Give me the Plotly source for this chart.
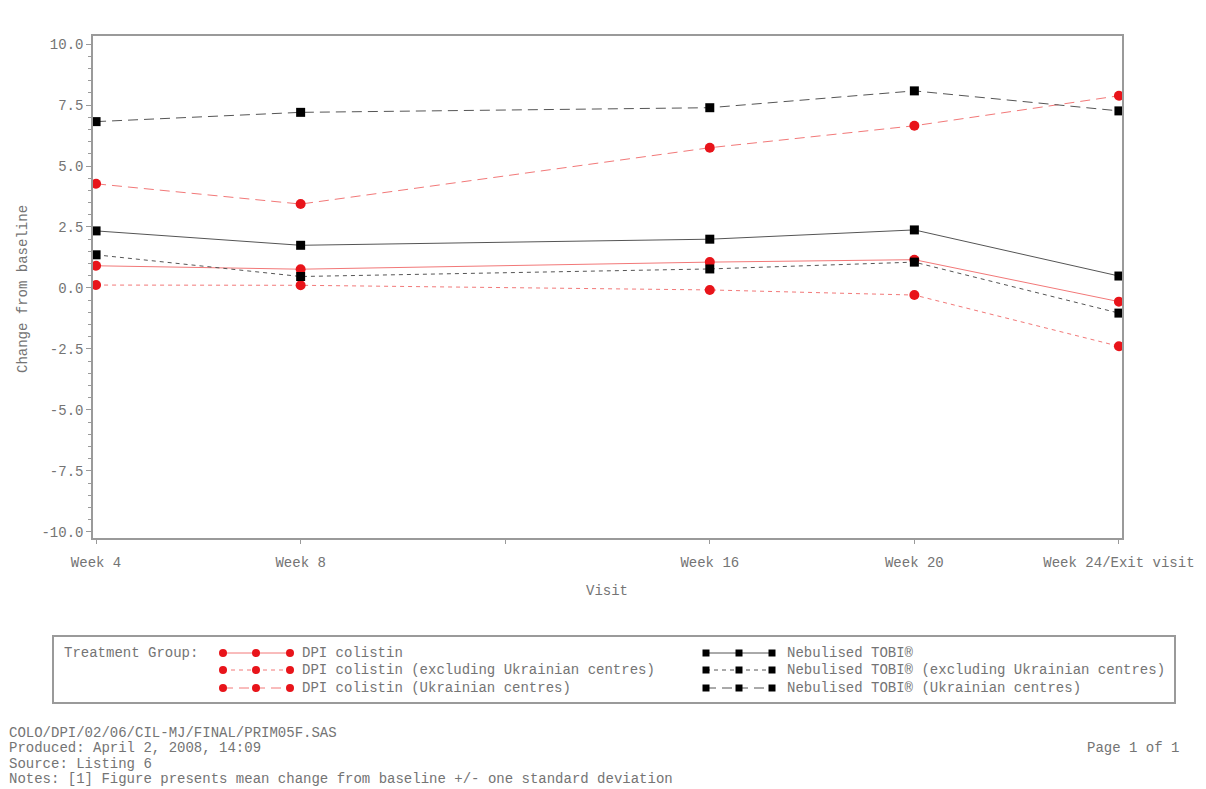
import plotly.graph_objects as go

# ---- data -------------------------------------------------------------
weeks = [4, 8, 16, 20, 24]
visit_tickvals = [4, 8, 12, 16, 20, 24]
visit_ticktext = ["Week 4", "Week 8", "", "Week 16", "Week 20", "Week 24/Exit visit"]

dpi_all = [0.91, 0.77, 1.06, 1.16, -0.56]
dpi_excl = [0.12, 0.11, -0.08, -0.29, -2.39]
dpi_ukr = [4.27, 3.44, 5.75, 6.65, 7.88]
tobi_all = [2.34, 1.75, 2.00, 2.38, 0.49]
tobi_excl = [1.36, 0.47, 0.78, 1.06, -1.03]
tobi_ukr = [6.82, 7.20, 7.39, 8.08, 7.26]

y_tickvals = [10.0, 7.5, 5.0, 2.5, 0.0, -2.5, -5.0, -7.5, -10.0]

series_names = [
    "DPI colistin",
    "DPI colistin (excluding Ukrainian centres)",
    "DPI colistin (Ukrainian centres)",
    "Nebulised TOBI\u00ae",
    "Nebulised TOBI\u00ae (excluding Ukrainian centres)",
    "Nebulised TOBI\u00ae (Ukrainian centres)",
]

footer_lines = [
    "COLO/DPI/02/06/CIL-MJ/FINAL/PRIM05F.SAS",
    "Produced: April 2, 2008, 14:09",
    "Source: Listing 6",
    "Notes: [1] Figure presents mean change from baseline +/- one standard deviation",
]

# ---- styling ------------------------------------------------------------
W, H = 1206, 789
FONT = "Liberation Mono"
FS = 14
TXT = "#747474"
AX = "#9a9a9a"
RED_M, RED_L = "#e8141a", "#f27878"
BLK_M, BLK_L = "#000000", "#555555"
DASH = {"all": "solid", "excl": "4px,4px", "ukr": "10px,6px"}


def px_x(p):
    return p / W


def px_y(p):
    return 1 - p / H


fig = go.Figure()

groups = [
    (dpi_all, series_names[0], "all", "red"),
    (dpi_excl, series_names[1], "excl", "red"),
    (dpi_ukr, series_names[2], "ukr", "red"),
    (tobi_all, series_names[3], "all", "blk"),
    (tobi_excl, series_names[4], "excl", "blk"),
    (tobi_ukr, series_names[5], "ukr", "blk"),
]

for vals, name, kind, col in groups:
    red = col == "red"
    fig.add_trace(go.Scatter(
        x=weeks, y=vals, name=name, mode="lines+markers",
        line=dict(color=RED_L if red else BLK_L, width=1, dash=DASH[kind]),
        marker=dict(symbol="circle" if red else "square",
                    size=10 if red else 9,
                    color=RED_M if red else BLK_M, line=dict(width=0)),
        showlegend=False, xaxis="x", yaxis="y",
    ))

# ---- hand-built legend panel (own axes, pixel units) ------------------
LEG_X0, LEG_X1, LEG_Y0, LEG_Y1 = 54, 1174, 637, 702
row_y = [653, 670, 688]
key_cols = [[223, 256, 290], [706, 739, 772]]
text_x = [300, 785]

for i, (vals, name, kind, col) in enumerate(groups):
    red = col == "red"
    c = 0 if red else 1
    r = i % 3
    fig.add_trace(go.Scatter(
        x=key_cols[c], y=[row_y[r]] * 3, mode="lines+markers",
        line=dict(color=RED_L if red else BLK_L, width=1, dash=DASH[kind]),
        marker=dict(symbol="circle" if red else "square",
                    size=8 if red else 7,
                    color=RED_M if red else BLK_M, line=dict(width=0)),
        showlegend=False, hoverinfo="skip", xaxis="x2", yaxis="y2",
    ))
    fig.add_annotation(x=text_x[c], y=row_y[r], xref="x2", yref="y2",
                       text=name, showarrow=False, xanchor="left", yanchor="middle",
                       font=dict(family=FONT, size=FS, color=TXT))

fig.add_annotation(x=62, y=row_y[0], xref="x2", yref="y2", text="Treatment Group:",
                   showarrow=False, xanchor="left", yanchor="middle",
                   font=dict(family=FONT, size=FS, color=TXT))

# ---- titles and footer ----------------------------------------------------
fig.add_annotation(x=px_x(607), y=px_y(591), xref="paper", yref="paper", text="Visit",
                   showarrow=False, xanchor="center", yanchor="middle",
                   font=dict(family=FONT, size=FS, color=TXT))
fig.add_annotation(x=px_x(23), y=px_y(289), xref="paper", yref="paper",
                   text="Change from baseline", textangle=-90,
                   showarrow=False, xanchor="center", yanchor="middle",
                   font=dict(family=FONT, size=FS, color=TXT))

for k, line in enumerate(footer_lines):
    fig.add_annotation(x=px_x(7), y=px_y(733 + 15.3 * k), xref="paper", yref="paper",
                       text=line, showarrow=False, xanchor="left", yanchor="middle",
                       font=dict(family=FONT, size=FS, color=TXT))
fig.add_annotation(x=px_x(1181), y=px_y(748), xref="paper", yref="paper",
                   text="Page 1 of 1", showarrow=False, xanchor="right", yanchor="middle",
                   font=dict(family=FONT, size=FS, color=TXT))

# ---- axes -----------------------------------------------------------------
fig.update_layout(
    width=W, height=H,
    margin=dict(l=0, r=0, t=0, b=0, autoexpand=False),
    paper_bgcolor="white", plot_bgcolor="white",
    font=dict(family=FONT, size=FS, color=TXT),
    showlegend=False,
    xaxis=dict(
        domain=[px_x(93), px_x(1122)], range=[3.94, 24.06],
        tickmode="array", tickvals=visit_tickvals, ticktext=visit_ticktext,
        ticks="outside", ticklen=4, tickcolor=AX, ticklabelstandoff=6,
        showline=True, linecolor=AX, linewidth=1.5, mirror=True,
        showgrid=False, zeroline=False, automargin=False,
        tickfont=dict(family=FONT, size=FS, color=TXT),
    ),
    yaxis=dict(
        domain=[px_y(538), px_y(36)], range=[-10.25, 10.33],
        tickmode="array", tickvals=y_tickvals,
        ticktext=[f"{v:.1f}" for v in y_tickvals],
        ticks="outside", ticklen=5, tickcolor=AX,
        minor=dict(tickmode="linear", tick0=0, dtick=0.5, ticks="outside",
                   ticklen=3, tickcolor=AX, showgrid=False),
        showline=True, linecolor=AX, linewidth=1.5, mirror=True,
        showgrid=False, zeroline=False, automargin=False,
        tickfont=dict(family=FONT, size=FS, color=TXT),
    ),
    xaxis2=dict(
        domain=[px_x(LEG_X0), px_x(LEG_X1)], range=[LEG_X0, LEG_X1],
        showline=True, linecolor=AX, linewidth=1.5, mirror=True,
        showticklabels=False, ticks="", showgrid=False, zeroline=False,
        anchor="y2", fixedrange=True, automargin=False,
    ),
    yaxis2=dict(
        domain=[px_y(LEG_Y1), px_y(LEG_Y0)], range=[LEG_Y1, LEG_Y0],
        showline=True, linecolor=AX, linewidth=1.5, mirror=True,
        showticklabels=False, ticks="", showgrid=False, zeroline=False,
        anchor="x2", fixedrange=True, automargin=False,
    ),
)

fig.write_html("out.html")
